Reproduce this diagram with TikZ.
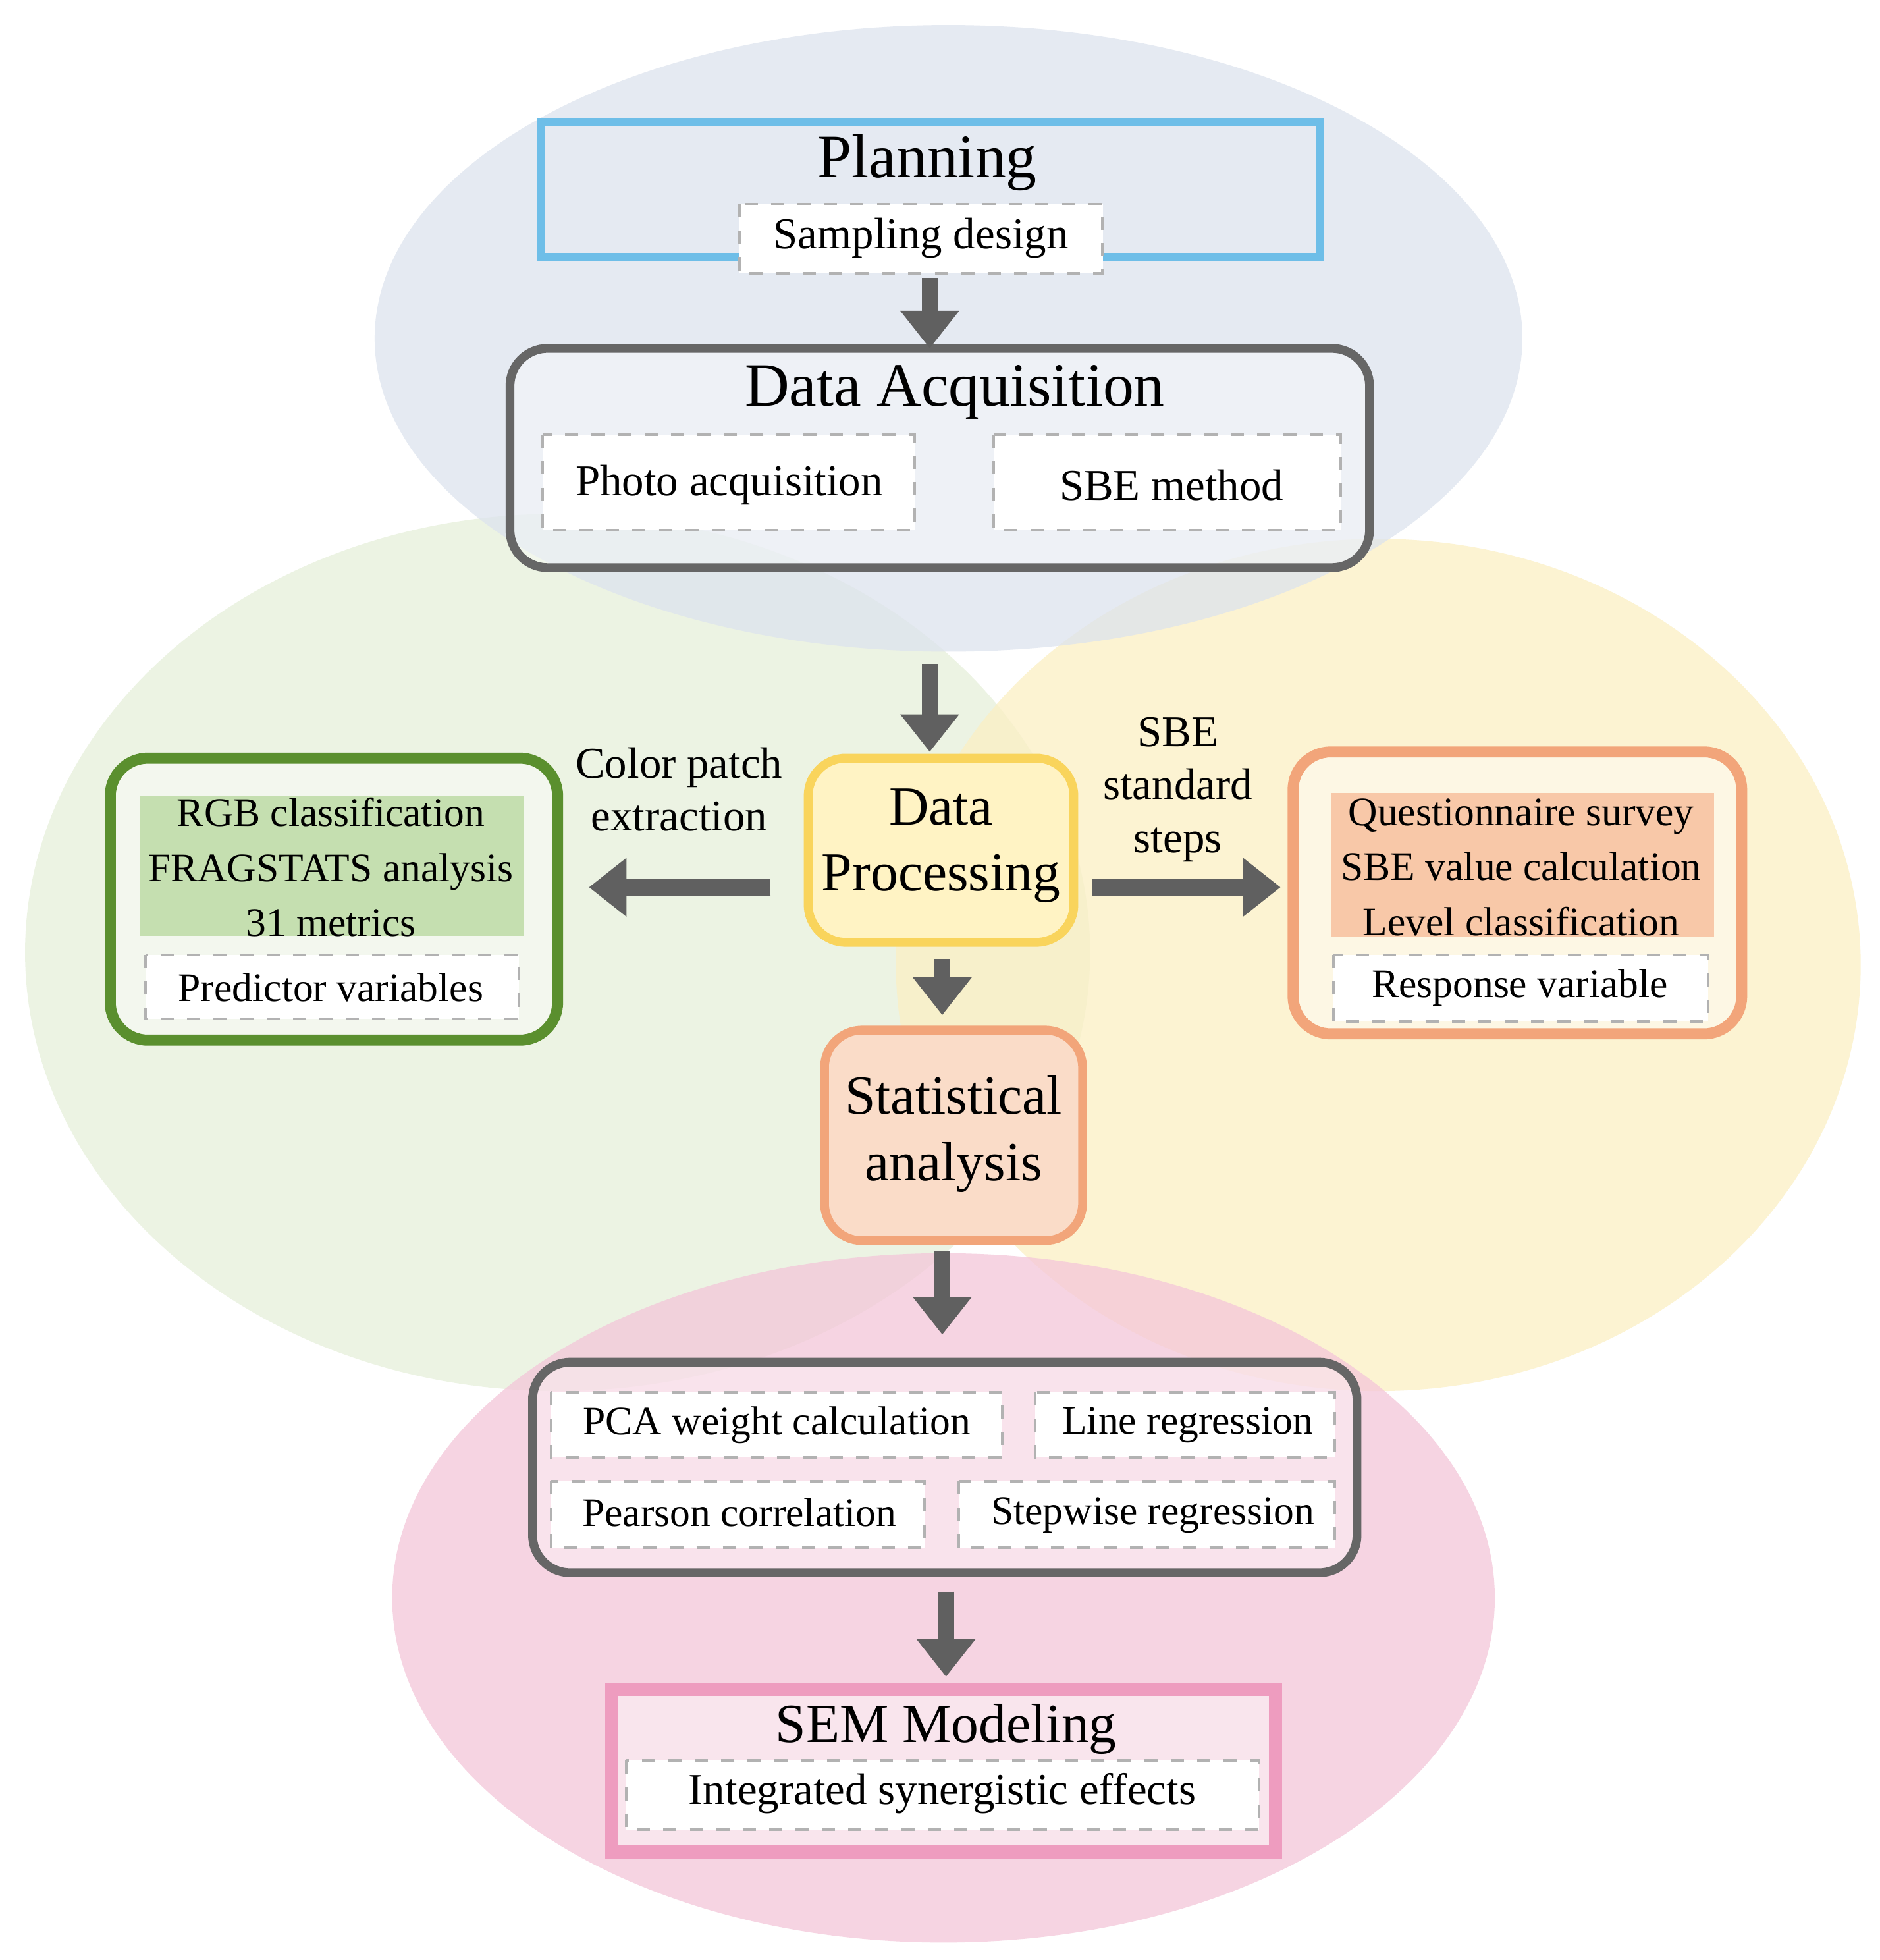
\documentclass[tikz,border=0pt]{standalone}
\usepackage{fontspec}
\setmainfont{Liberation Serif}
\usetikzlibrary{arrows.meta}
\definecolor{eblue}{HTML}{DDE3EE}
\definecolor{egreen}{HTML}{E6F0DA}
\definecolor{eyellow}{HTML}{FBEFC4}
\definecolor{epink}{HTML}{F4C6D9}
\begin{document}
\begin{tikzpicture}[x=0.01cm,y=-0.01cm,
 big/.style={font=\fontsize{14}{16}\selectfont},
 mid/.style={font=\fontsize{12.5}{15}\selectfont},
 sm/.style={font=\fontsize{10}{12}\selectfont},
 xs/.style={font=\fontsize{9.2}{12.5}\selectfont},
 sub/.style={draw=gray!60,dashed,fill=white,line width=0.6pt},
 outer/.style={rounded corners=0.3cm,line width=2pt},
 arr/.style={-{Triangle[length=0.3cm,width=0.45cm]},line width=0.13cm,draw=gray!75!black}]
\useasboundingbox (0,0) rectangle (1500,1564);
\fill[white] (0,0) rectangle (1500,1564);
\begin{scope}[fill opacity=0.75]
\fill[egreen] (445,760) ellipse [x radius=425,y radius=350];
\fill[eyellow] (1100,770) ellipse [x radius=385,y radius=340];
\fill[epink] (753,1275) ellipse [x radius=440,y radius=275];
\fill[eblue] (757,270) ellipse [x radius=458,y radius=250];
\end{scope}
% Planning
\draw[draw={rgb,255:red,110;green,190;blue,232},line width=1.8pt] (432,97) rectangle (1053,205);
\node[big] (plan) at (740,130) {Planning};
\draw[sub] (590,163) rectangle (880,218);
\node[sm] (samp) at (735,190) {Sampling design};
% Data acquisition
\draw[outer,draw=gray!80!black,fill=white,fill opacity=0.35] (407,278) rectangle (1093,453);
\node[big] (acq) at (762,313) {Data Acquisition};
\draw[sub] (433,347) rectangle (730,423);
\node[sm] (photo) at (582,387) {Photo acquisition};
\draw[sub] (793,347) rectangle (1070,423);
\node[sm] (sbe) at (935,387) {SBE method};
% Data processing
\draw[outer,draw={rgb,255:red,249;green,212;blue,92},fill={rgb,255:red,255;green,243;blue,196}] (645,605) rectangle (857,752);
\node[mid,align=center] (proc) at (751,675) {Data\\Processing};
% Left green
\draw[outer,draw={rgb,255:red,90;green,143;blue,46},line width=2.5pt,fill=white,fill opacity=0.4] (88,605) rectangle (445,830);
\fill[fill={rgb,255:red,197;green,223;blue,176}] (112,635) rectangle (418,747);
\node[xs,align=center] (rgb) at (264,692) {RGB classification\\FRAGSTATS analysis\\31 metrics};
\draw[sub] (116,762) rectangle (414,813);
\node[xs] (pred) at (264,788) {Predictor variables};
\node[sm,align=center] (cpe) at (542,630) {Color patch\\extraction};
\node[sm,align=center] (sst) at (940,630) {SBE\\standard\\steps};
% Right
\draw[outer,draw={rgb,255:red,242;green,165;blue,122},line width=2.5pt,fill=white,fill opacity=0.4] (1032,600) rectangle (1390,825);
\fill[fill={rgb,255:red,248;green,200;blue,168}] (1062,633) rectangle (1368,748);
\node[xs,align=center] (que) at (1214,692) {Questionnaire survey\\SBE value calculation\\Level classification};
\draw[sub] (1064,762) rectangle (1363,815);
\node[xs] (resp) at (1213,788) {Response variable};
% Statistical
\draw[outer,draw={rgb,255:red,242;green,165;blue,122},fill={rgb,255:red,250;green,220;blue,200}] (658,822) rectangle (864,990);
\node[mid,align=center] (stat) at (761,905) {Statistical\\analysis};
% Analysis box
\draw[outer,draw=gray!80!black,fill=white,fill opacity=0.35] (425,1087) rectangle (1083,1255);
\draw[sub] (440,1111) rectangle (800,1163);
\node[xs] (pca) at (620,1137) {PCA weight calculation};
\draw[sub] (826,1111) rectangle (1065,1163);
\node[xs] (lin) at (948,1137) {Line regression};
\draw[sub] (440,1182) rectangle (738,1235);
\node[xs] (pear) at (590,1207) {Pearson correlation};
\draw[sub] (765,1182) rectangle (1065,1235);
\node[xs] (step) at (920,1209) {Stepwise regression};
% SEM
\draw[draw={rgb,255:red,238;green,156;blue,191},line width=3pt,fill=white,fill opacity=0.4] (488,1348) rectangle (1018,1478);
\node[mid] (sem) at (755,1380) {SEM Modeling};
\draw[sub] (500,1405) rectangle (1005,1460);
\node[sm] (int) at (752,1431) {Integrated synergistic effects};
% arrows
\coordinate (a1) at (742,222); \coordinate (a2) at (742,278);
\coordinate (b1) at (742,530); \coordinate (b2) at (742,600);
\coordinate (c1) at (615,708); \coordinate (c2) at (470,708);
\coordinate (d1) at (872,708); \coordinate (d2) at (1022,708);
\coordinate (e1) at (752,765); \coordinate (e2) at (752,810);
\coordinate (f1) at (752,998); \coordinate (f2) at (752,1065);
\coordinate (g1) at (755,1270); \coordinate (g2) at (755,1338);
\foreach \s/\t in {a1/a2,b1/b2,c1/c2,d1/d2,e1/e2,f1/f2,g1/g2} \draw[arr] (\s) -- (\t);
\end{tikzpicture}
\end{document}
